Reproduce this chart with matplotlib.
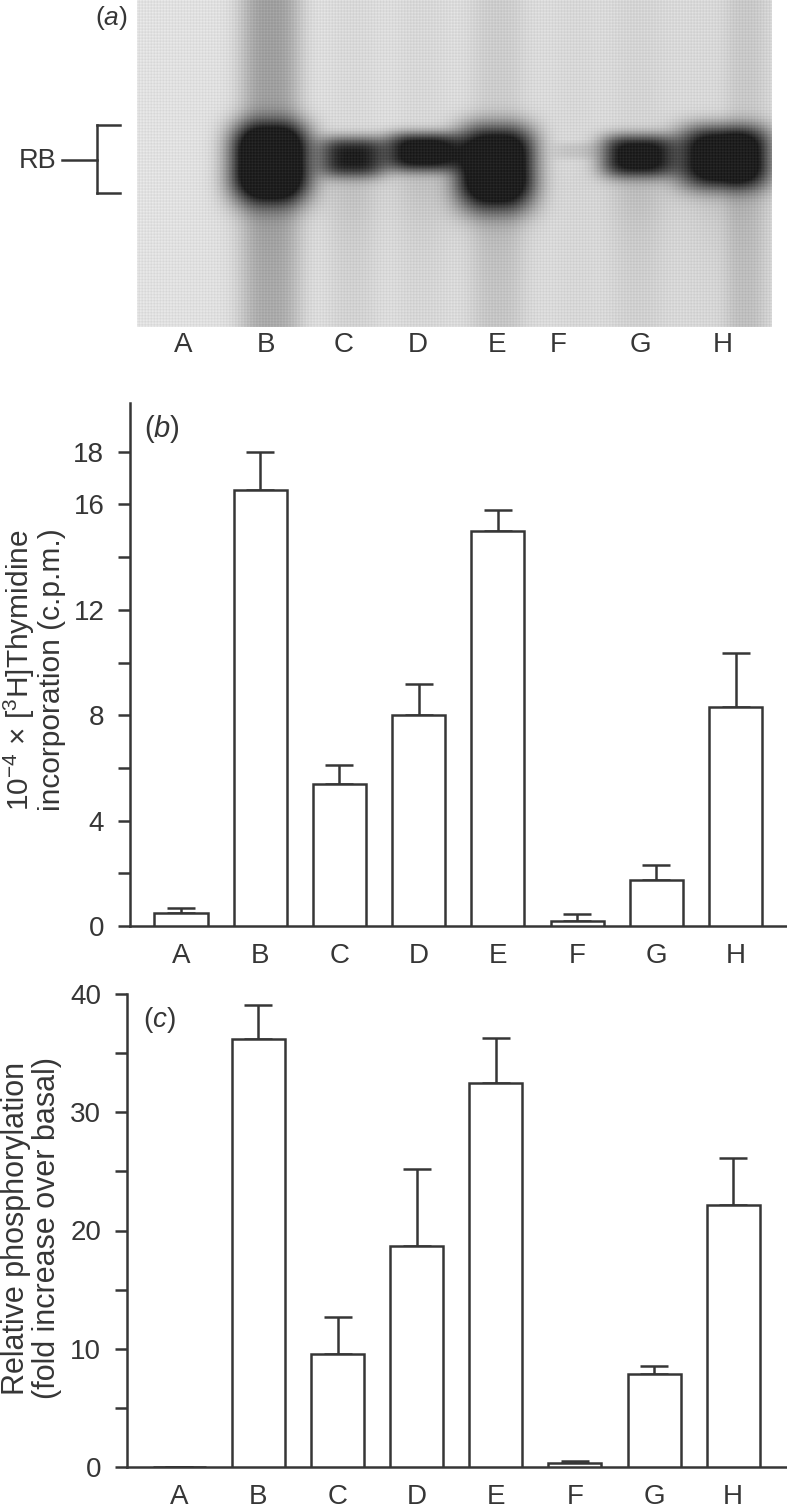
"""Recreate the three-panel RB gel / thymidine / phosphorylation figure."""
import numpy as np
import matplotlib
matplotlib.use("Agg")
import matplotlib.pyplot as plt
from matplotlib.lines import Line2D

plt.rcParams["font.family"] = ["Liberation Sans", "DejaVu Sans"]
plt.rcParams["mathtext.fontset"] = "custom"
plt.rcParams["mathtext.rm"] = "Liberation Sans"
plt.rcParams["mathtext.it"] = "Liberation Sans:italic"
plt.rcParams["mathtext.default"] = "regular"

W, H = 787, 1509
INK = "#363636"

LANES = ["A", "B", "C", "D", "E", "F", "G", "H"]

# panel b: thymidine incorporation
THY_VALUES = [0.5, 16.55, 5.4, 8.0, 15.0, 0.2, 1.75, 8.3]
THY_ERRORS = [0.18, 1.45, 0.7, 1.2, 0.8, 0.25, 0.55, 2.05]
THY_TICKS = [0, 2, 4, 6, 8, 10, 12, 14, 16, 18]
THY_TICK_LABELS = ["0", "", "4", "", "8", "", "12", "", "16", "18"]

# panel c: relative phosphorylation
PHO_VALUES = [0.0, 36.2, 9.55, 18.7, 32.45, 0.3, 7.85, 22.15]
PHO_ERRORS = [0.0, 2.85, 3.15, 6.5, 3.8, 0.2, 0.65, 3.95]
PHO_TICKS = [0, 5, 10, 15, 20, 25, 30, 35, 40]
PHO_TICK_LABELS = ["0", "", "10", "", "20", "", "30", "", "40"]

# panel a: gel bands, in image pixels
GEL_LABEL_X = [183, 266, 344, 418, 497, 558, 640, 723]
BAND_X = [270, 352, 421, 495, 575, 637, 724]
BAND_HALF_W = [42, 33, 36, 41, 22, 37, 47]
BAND_Y = [160, 156, 151, 163, 150, 155, 155]
BAND_UP = [38, 20, 19, 38, 8, 21, 30]
BAND_DOWN = [42, 21, 20, 46, 9, 22, 33]
BAND_PEAK = [0.95, 0.72, 0.84, 0.97, 0.08, 0.80, 0.94]
SMEAR_X = [270, 352, 421, 497, 575, 637, 745]
SMEAR_HALF_W = [31, 25, 25, 27, 20, 25, 20]
SMEAR_TOP = [0.25, 0.02, 0.02, 0.06, 0.01, 0.02, 0.06]
SMEAR_BOTTOM = [0.20, 0.04, 0.02, 0.08, 0.01, 0.03, 0.09]


def px_axes(fig, left, top, right, bottom):
    return fig.add_axes([left / W, 1 - bottom / H, (right - left) / W, (bottom - top) / H])


def draw_gel(fig):
    left, top, right, bottom = 137, 0, 772, 327
    ax = px_axes(fig, left, top, right, bottom)
    xx, yy = np.meshgrid(np.arange(left, right), np.arange(top, bottom))
    dark = np.full(xx.shape, 0.12) + 0.04 * (xx - left) / (right - left)
    for i in range(len(BAND_X)):
        dx = xx - BAND_X[i]
        dy = yy - BAND_Y[i]
        half_h = np.where(dy < 0, BAND_UP[i], BAND_DOWN[i])
        band = np.exp(-(np.abs(dx / BAND_HALF_W[i]) ** 3.2 + np.abs(dy / half_h) ** 3.2))
        sx = xx - SMEAR_X[i]
        # blend top and bottom smear across the band so there is no seam
        blend = np.clip((dy + 30) / 60.0, 0, 1)
        smear = SMEAR_TOP[i] * (1 - blend) + SMEAR_BOTTOM[i] * blend
        smear = smear * np.exp(-np.abs(sx / SMEAR_HALF_W[i]) ** 3)
        low = np.clip(dy, 0, None)
        tail = 0.25 * BAND_PEAK[i] * np.exp(-low / 45.0) * (1 - np.exp(-(low / 25.0) ** 2))
        tail = tail * np.exp(-(dx / (BAND_HALF_W[i] * 0.9)) ** 2)
        dark = dark + smear + tail + BAND_PEAK[i] * band
    dark = np.clip(dark, 0, 0.88)
    # halftone screen from the print
    screen = np.sin((xx + yy) * 2.1) * np.sin((xx - yy) * 2.1)
    gray = np.clip(1 - dark + 0.04 * screen, 0, 1)
    ax.imshow(gray, cmap="gray", vmin=0, vmax=1, aspect="auto", interpolation="nearest")
    ax.axis("off")

    # bracket around the RB band, figure pixel coordinates
    segs = [([97, 97], [125, 193]), ([97, 120], [125, 125]), ([97, 120], [193, 193]), ([62, 97], [160, 160])]
    for xs, ys in segs:
        fig.add_artist(Line2D([v / W for v in xs], [1 - v / H for v in ys], color=INK, lw=1.8))
    fig.text(38 / W, 1 - 161 / H, "RB", color=INK, fontsize=19.5, ha="center", va="center")
    fig.text(111 / W, 1 - 18 / H, "($\\mathit{a}$)", color=INK, fontsize=19, ha="center", va="center")
    for name, x in zip(LANES, GEL_LABEL_X):
        fig.text(x / W, 1 - 345 / H, name, color=INK, fontsize=20, ha="center", va="center")


def draw_bars(ax, values, errors, ticks, tick_labels, ymax, xlim):
    x = np.arange(len(LANES))
    lower = np.zeros(len(values))
    ax.errorbar(x, values, yerr=[lower, errors], fmt="none", ecolor=INK,
                elinewidth=1.8, capsize=10, capthick=1.8, zorder=2)
    ax.bar(x, values, width=0.67, facecolor="white", edgecolor=INK, linewidth=1.8, zorder=3)
    ax.set_xlim(*xlim)
    ax.set_ylim(0, ymax)
    ax.set_xticks(x)
    ax.set_xticklabels(LANES, fontsize=20, color=INK)
    ax.tick_params(axis="x", length=0, pad=12)
    ax.set_yticks(ticks)
    ax.set_yticklabels(tick_labels, fontsize=20, color=INK)
    ax.tick_params(axis="y", length=8.5, width=1.8, color=INK, pad=10)
    for side in ("top", "right"):
        ax.spines[side].set_visible(False)
    for side in ("left", "bottom"):
        ax.spines[side].set_linewidth(1.8)
        ax.spines[side].set_color(INK)
    ax.patch.set_alpha(0)


def main():
    fig = plt.figure(figsize=(W / 100, H / 100), dpi=100, facecolor="white")
    draw_gel(fig)

    ax_b = px_axes(fig, 130, 403, 787, 926)
    draw_bars(ax_b, THY_VALUES, THY_ERRORS, THY_TICKS, THY_TICK_LABELS, 19.85, (-0.644, 7.65))
    fig.text(162 / W, 1 - 429 / H, "($\\mathit{b}$)", color=INK, fontsize=21, ha="center", va="center")
    fig.text(19 / W, 1 - 670 / H, "10$^{-4}$ × [$^{3}$H]Thymidine", color=INK, fontsize=21.5,
             rotation=90, ha="center", va="center")
    fig.text(52 / W, 1 - 670 / H, "incorporation (c.p.m.)", color=INK, fontsize=21.5,
             rotation=90, ha="center", va="center")

    ax_c = px_axes(fig, 127, 994, 787, 1467)
    draw_bars(ax_c, PHO_VALUES, PHO_ERRORS, PHO_TICKS, PHO_TICK_LABELS, 40, (-0.662, 7.68))
    fig.text(159 / W, 1 - 1020 / H, "($\\mathit{c}$)", color=INK, fontsize=20, ha="center", va="center")
    fig.text(16 / W, 1 - 1228 / H, "Relative phosphorylation", color=INK, fontsize=22,
             rotation=90, ha="center", va="center")
    fig.text(47 / W, 1 - 1228 / H, "(fold increase over basal)", color=INK, fontsize=22,
             rotation=90, ha="center", va="center")

    fig.savefig("out.png", dpi=100)
    plt.close(fig)


if __name__ == "__main__":
    main()
